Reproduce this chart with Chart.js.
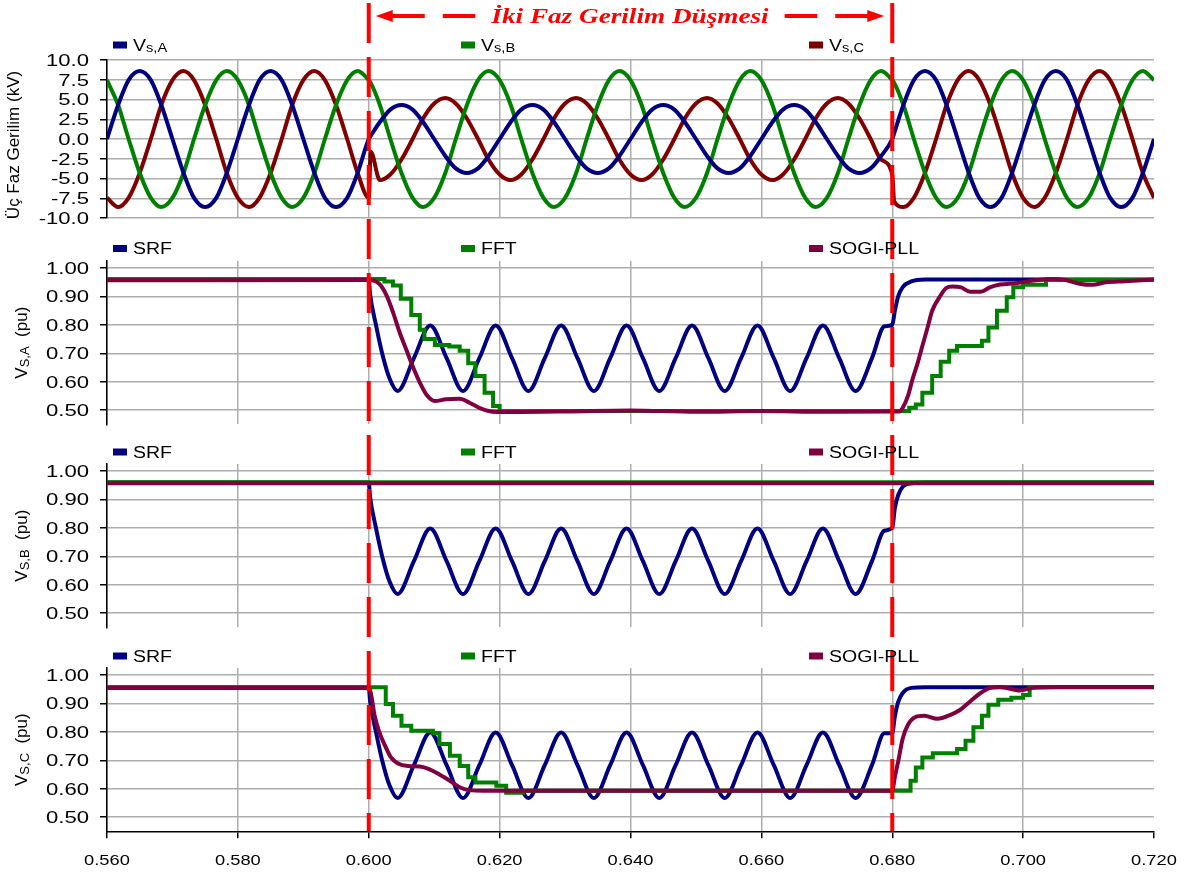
<!DOCTYPE html>
<html>
<head>
<meta charset="utf-8">
<title>Iki Faz Gerilim Dusmesi</title>
<script src="https://cdn.jsdelivr.net/npm/chart.js@4.4.1/dist/chart.umd.min.js"></script>
<style>
  body { margin: 0; background: #fff; }
  #wrap { position: relative; width: 1187px; height: 876px; }
  #wrap canvas { position: absolute; left: 0; }
</style>
</head>
<body>
<div id="wrap">
  <canvas id="c1" width="1187" height="232" style="top:0px"></canvas>
  <canvas id="c2" width="1187" height="203" style="top:232px"></canvas>
  <canvas id="c3" width="1187" height="203" style="top:435px"></canvas>
  <canvas id="c4" width="1187" height="238" style="top:638px"></canvas>
</div>
<script>
// ---- axis ticks / event ----
const timeTicks = [0.560, 0.580, 0.600, 0.620, 0.640, 0.660, 0.680, 0.700, 0.720];
const kvTicks = [-10, -7.5, -5, -2.5, 0, 2.5, 5, 7.5, 10];
const puTicks = [0.5, 0.6, 0.7, 0.8, 0.9, 1.0];
const sagEdges = [0.600, 0.680];

// ---- three phase voltages (kV) ----
const tV = [0.5600,0.5617,0.5633,0.5650,0.5667,0.5683,0.5700,0.5717,0.5733,0.5750,0.5767,0.5783,
  0.5800,0.5817,0.5833,0.5850,0.5867,0.5883,0.5900,0.5917,0.5933,0.5950,0.5967,0.5983,
  0.6000,0.6003,
  0.6017,0.6033,0.6050,0.6067,0.6083,0.6100,0.6117,0.6133,0.6150,0.6167,0.6183,0.6200,
  0.6217,0.6233,0.6250,0.6267,0.6283,0.6300,0.6317,0.6333,0.6350,0.6367,0.6383,0.6400,
  0.6417,0.6433,0.6450,0.6467,0.6483,0.6500,0.6517,0.6533,0.6550,0.6567,0.6583,0.6600,
  0.6617,0.6633,0.6650,0.6667,0.6683,0.6700,0.6717,0.6733,0.6750,0.6767,0.6783,0.6800,
  0.6803,
  0.6817,0.6833,0.6850,0.6867,0.6883,0.6900,0.6917,0.6933,0.6950,0.6967,0.6983,0.7000,
  0.7017,0.7033,0.7050,0.7067,0.7083,0.7100,0.7117,0.7133,0.7150,0.7167,0.7183,0.7200];
const vA = [0,4.3,7.45,8.6,7.45,4.3,0,-4.3,-7.45,-8.6,-7.45,-4.3,
  0,4.3,7.45,8.6,7.45,4.3,0,-4.3,-7.45,-8.6,-7.45,-4.3,
  0,0.4,
  2.15,3.72,4.3,3.72,2.15,0,-2.15,-3.72,-4.3,-3.72,-2.15,0,
  2.15,3.72,4.3,3.72,2.15,0,-2.15,-3.72,-4.3,-3.72,-2.15,0,
  2.15,3.72,4.3,3.72,2.15,0,-2.15,-3.72,-4.3,-3.72,-2.15,0,
  2.15,3.72,4.3,3.72,2.15,0,-2.15,-3.72,-4.3,-3.72,-2.15,0,
  0.75,
  4.3,7.45,8.6,7.45,4.3,0,-4.3,-7.45,-8.6,-7.45,-4.3,0,
  4.3,7.45,8.6,7.45,4.3,0,-4.3,-7.45,-8.6,-7.45,-4.3,0];
const vB = [7.45,4.3,0,-4.3,-7.45,-8.6,-7.45,-4.3,0,4.3,7.45,8.6,
  7.45,4.3,0,-4.3,-7.45,-8.6,-7.45,-4.3,0,4.3,7.45,8.6,
  7.45,7.1,
  4.3,0,-4.3,-7.45,-8.6,-7.45,-4.3,0,4.3,7.45,8.6,7.45,
  4.3,0,-4.3,-7.45,-8.6,-7.45,-4.3,0,4.3,7.45,8.6,7.45,
  4.3,0,-4.3,-7.45,-8.6,-7.45,-4.3,0,4.3,7.45,8.6,7.45,
  4.3,0,-4.3,-7.45,-8.6,-7.45,-4.3,0,4.3,7.45,8.6,7.45,
  7.1,
  4.3,0,-4.3,-7.45,-8.6,-7.45,-4.3,0,4.3,7.45,8.6,7.45,
  4.3,0,-4.3,-7.45,-8.6,-7.45,-4.3,0,4.3,7.45,8.6,7.45];
const vC = [-7.45,-8.6,-7.45,-4.3,0,4.3,7.45,8.6,7.45,4.3,0,-4.3,
  -7.45,-8.6,-7.45,-4.3,0,4.3,7.45,8.6,7.45,4.3,0,-4.3,
  -7.45,-1.6,
  -5.2,-4.5,-2.6,0,2.6,4.5,5.2,4.5,2.6,0,-2.6,-4.5,
  -5.2,-4.5,-2.6,0,2.6,4.5,5.2,4.5,2.6,0,-2.6,-4.5,
  -5.2,-4.5,-2.6,0,2.6,4.5,5.2,4.5,2.6,0,-2.6,-4.5,
  -5.2,-4.5,-2.6,0,2.6,4.5,5.2,4.5,2.6,0,-2.6,-4.5,
  -7.9,
  -8.6,-7.45,-4.3,0,4.3,7.45,8.6,7.45,4.3,0,-4.3,-7.45,
  -8.6,-7.45,-4.3,0,4.3,7.45,8.6,7.45,4.3,0,-4.3,-7.45];

// ---- SRF estimates (pu), same time base for the three phases ----
const tSRF = [0.5600,0.6000,0.6002,0.6011,0.6021,0.6032,
  0.6044,0.6069,0.6094,0.6119,0.6144,0.6169,0.6194,0.6219,0.6244,0.6269,0.6294,0.6319,
  0.6344,0.6369,0.6394,0.6419,0.6444,0.6469,0.6494,0.6519,0.6544,0.6569,0.6594,0.6619,
  0.6644,0.6669,0.6694,0.6719,0.6744,
  0.6769,0.6788,0.6800,0.6804,0.6809,0.6816,0.6829,0.6850,0.7200];
const srfA = [0.96,0.96,0.91,0.80,0.695,0.61,
  0.567,0.683,0.798,0.683,0.567,0.683,0.798,0.683,0.567,0.683,0.798,0.683,
  0.567,0.683,0.798,0.683,0.567,0.683,0.798,0.683,0.567,0.683,0.798,0.683,
  0.567,0.683,0.798,0.683,0.567,
  0.683,0.795,0.80,0.85,0.90,0.933,0.953,0.96,0.96];
const srfB = [0.96,0.96,0.91,0.80,0.695,0.61,
  0.567,0.683,0.798,0.683,0.567,0.683,0.798,0.683,0.567,0.683,0.798,0.683,
  0.567,0.683,0.798,0.683,0.567,0.683,0.798,0.683,0.567,0.683,0.798,0.683,
  0.567,0.683,0.798,0.683,0.567,
  0.683,0.79,0.80,0.87,0.915,0.945,0.957,0.96,0.96];
const srfC = [0.957,0.957,0.91,0.80,0.695,0.61,
  0.567,0.683,0.798,0.683,0.567,0.683,0.798,0.683,0.567,0.683,0.798,0.683,
  0.567,0.683,0.798,0.683,0.567,0.683,0.798,0.683,0.567,0.683,0.798,0.683,
  0.567,0.683,0.798,0.683,0.567,
  0.683,0.795,0.795,0.855,0.905,0.937,0.955,0.957,0.957];

// ---- FFT estimates (pu, step output) ----
const tFftA = [0.5600,0.6024,0.6037,0.6049,0.6065,0.6078,0.6085,0.6101,0.6123,0.6139,0.6152,0.6163,0.6177,0.6190,0.6200,
  0.6826,0.6836,0.6846,0.6861,0.6874,0.6887,0.6899,0.6937,0.6947,0.6960,0.6975,0.6985,0.7000,0.7035,0.7200];
const fftA = [0.962,0.953,0.939,0.892,0.835,0.783,0.750,0.729,0.724,0.709,0.665,0.620,0.561,0.514,0.497,
  0.508,0.520,0.561,0.620,0.670,0.709,0.726,0.744,0.791,0.850,0.897,0.933,0.941,0.958,0.962];
const tFftB = [0.5600,0.7200];
const fftB = [0.961,0.961];
const tFftC = [0.5600,0.6026,0.6037,0.6050,0.6065,0.6098,0.6108,0.6124,0.6139,0.6152,0.6163,0.6195,0.6210,0.6236,
  0.6828,0.6836,0.6846,0.6862,0.6899,0.6912,0.6924,0.6937,0.6947,0.6962,0.6982,0.7000,0.7010,0.7200];
const fftC = [0.957,0.898,0.857,0.822,0.804,0.796,0.757,0.716,0.680,0.640,0.622,0.610,0.586,0.593,
  0.628,0.675,0.710,0.725,0.740,0.769,0.816,0.857,0.896,0.913,0.920,0.930,0.958,0.958];

// ---- SOGI-PLL estimates (pu) ----
const tSogiA = [0.5600,0.6000,0.6016,0.6027,0.6037,0.6047,0.6057,0.6067,0.6078,0.6088,0.6101,0.6118,0.6139,0.6154,0.6169,0.6185,0.6210,
  0.6300,0.6400,0.6500,0.6600,0.6700,0.6811,0.6816,0.6824,0.6831,0.6839,0.6846,0.6854,0.6861,0.6872,0.6882,0.6892,0.6904,
  0.6919,0.6935,0.6950,0.6965,0.6990,0.7015,0.7045,0.7065,0.7086,0.7106,0.7126,0.7156,0.7200];
const sogiA = [0.957,0.958,0.945,0.905,0.845,0.775,0.715,0.655,0.597,0.555,0.532,0.538,0.540,0.526,0.508,0.496,0.493,
  0.495,0.499,0.494,0.497,0.494,0.495,0.508,0.550,0.609,0.667,0.726,0.791,0.850,0.897,0.929,0.935,0.933,
  0.917,0.917,0.933,0.942,0.947,0.956,0.962,0.958,0.945,0.941,0.950,0.954,0.960];
const tSogiB = [0.5600,0.7200];
const sogiB = [0.957,0.957];
const tSogiC = [0.5600,0.6000,0.6004,0.6009,0.6016,0.6024,0.6034,0.6044,0.6060,0.6078,0.6093,0.6108,0.6124,0.6139,0.6154,0.6175,
  0.6800,0.6804,0.6809,0.6816,0.6824,0.6834,0.6849,0.6869,0.6889,0.6904,0.6919,0.6935,0.6950,0.6965,0.6995,0.7015,0.7055,0.7200];
const sogiC = [0.955,0.955,0.927,0.857,0.800,0.756,0.710,0.690,0.680,0.678,0.668,0.650,0.628,0.605,0.595,0.593,
  0.593,0.642,0.695,0.777,0.825,0.851,0.857,0.846,0.860,0.878,0.907,0.937,0.955,0.958,0.946,0.955,0.958,0.958];

const NAVY = '#000080', GREEN = '#008000', DARKRED = '#800000', MAROON = '#800040';
const RED = '#ff0000', GRID = '#adadad';
const SANS = '"Liberation Sans", Arial, sans-serif';

function pts(ts, vs) { return ts.map((t, i) => ({ x: t, y: vs[i] })); }

// label 'V_s,A_ (pu)' -> main / subscript / tail parts
function parts(label, size) {
  const p = label.split('_');
  const out = [{ t: p[0], font: size + 'px ' + SANS, dy: 0 }];
  if (p[1]) out.push({ t: p[1], font: Math.round(size * 0.75) + 'px ' + SANS, dy: 1.5 });
  if (p[2]) out.push({ t: p[2], font: size + 'px ' + SANS, dy: 0 });
  return out;
}

function richText(ctx, ps, x, y, align, sx) {
  let w = 0;
  ps.forEach(p => { ctx.font = p.font; p.w = ctx.measureText(p.t).width; w += p.w; });
  ctx.save();
  ctx.translate(x, y);
  ctx.scale(sx, 1);
  ctx.textAlign = 'left';
  ctx.textBaseline = 'alphabetic';
  let cx = align === 'right' ? -w : align === 'center' ? -w / 2 : 0;
  ps.forEach(p => { ctx.font = p.font; ctx.fillText(p.t, cx, p.dy); cx += p.w; });
  ctx.restore();
}

const decor = {
  id: 'decor',
  afterDraw(chart, args, o) {
    const ctx = chart.ctx, a = chart.chartArea, xs = chart.scales.x, ys = chart.scales.y;
    ctx.save();

    // sag start / end markers
    ctx.strokeStyle = RED;
    ctx.lineWidth = 4;
    ctx.setLineDash([40, 14]);
    const y0 = o.banner ? 3 : 0, y1 = o.xLabels ? a.bottom : chart.height;
    ctx.lineDashOffset = o.top + y0 - 3;
    sagEdges.forEach(v => {
      const px = xs.getPixelForValue(v);
      ctx.beginPath(); ctx.moveTo(px, y0); ctx.lineTo(px, y1); ctx.stroke();
    });
    ctx.setLineDash([]);

    // tick labels
    ctx.fillStyle = '#000';
    ys.ticks.forEach(t => {
      richText(ctx, [{ t: t.value.toFixed(o.dec), font: '16px ' + SANS, dy: 0 }], a.left - 18, ys.getPixelForValue(t.value) + 5.8, 'right', 1.38);
    });
    if (o.xLabels) {
      xs.ticks.forEach(t => {
        richText(ctx, [{ t: t.value.toFixed(3), font: '15px ' + SANS, dy: 0 }], xs.getPixelForValue(t.value), a.bottom + 34, 'center', 1.22);
      });
    }

    // legend
    const ly = a.top - o.legendGap;
    o.legend.forEach((lab, i) => {
      const bx = a.left + 6 + i * 348;
      ctx.fillStyle = chart.data.datasets[i].borderColor;
      ctx.fillRect(bx, ly - 3.5, 14, 7);
      ctx.fillStyle = '#000';
      richText(ctx, parts(lab, 16), bx + 20, ly + 5.5, 'left', 1.22);
    });

    // y axis title
    ctx.save();
    ctx.translate(o.titleX, (a.top + a.bottom) / 2 + o.titleShift);
    ctx.rotate(-Math.PI / 2);
    ctx.fillStyle = '#000';
    richText(ctx, parts(o.title, 17), 0, 6, 'center', 1);
    ctx.restore();

    // two phase sag banner
    if (o.banner) {
      const xl = xs.getPixelForValue(sagEdges[0]) + 7, xr = xs.getPixelForValue(sagEdges[1]) - 8, yb = 16;
      const cx = (xl + xr) / 2;
      ctx.fillStyle = RED; ctx.strokeStyle = RED;
      ctx.font = 'italic bold 20px "Liberation Serif", "Times New Roman", serif';
      const tw = ctx.measureText(o.banner).width * 1.36;
      ctx.save();
      ctx.translate(cx, yb + 6.5); ctx.scale(1.36, 1);
      ctx.textAlign = 'center'; ctx.textBaseline = 'alphabetic';
      ctx.fillText(o.banner, 0, 0);
      ctx.restore();
      [[xl, 1], [xr, -1]].forEach(([tip, dir]) => {
        ctx.beginPath();
        ctx.moveTo(tip, yb); ctx.lineTo(tip + dir * 17, yb - 6); ctx.lineTo(tip + dir * 17, yb + 6);
        ctx.closePath(); ctx.fill();
        ctx.lineWidth = 4;
        ctx.setLineDash([34, 18]);
        ctx.beginPath(); ctx.moveTo(tip + dir * 15, yb); ctx.lineTo(cx - dir * (tw / 2 + 16), yb); ctx.stroke();
        ctx.setLineDash([]);
      });
    }
    ctx.restore();
  }
};

function panel(id, o) {
  return new Chart(document.getElementById(id), {
    type: 'line',
    data: { datasets: o.sets },
    options: {
      responsive: false,
      animation: false,
      layout: { padding: { left: 0, right: 33, top: o.padTop, bottom: o.padBottom } },
      elements: { point: { radius: 0 }, line: { borderWidth: 4 } },
      plugins: { legend: { display: false }, tooltip: { enabled: false }, decor: o },
      scales: {
        x: {
          type: 'linear', min: 0.56, max: 0.72,
          afterBuildTicks: s => { s.ticks = timeTicks.map(v => ({ value: v })); },
          afterFit: s => { s.height = o.xHeight; },
          ticks: { display: false },
          grid: {
            color: c => (c.tick && Math.abs(c.tick.value - 0.72) < 1e-9) ? 'rgba(0,0,0,0)' : GRID,
            lineWidth: 1.5, drawTicks: !!o.xLabels, tickLength: 7, tickColor: '#000'
          },
          border: { display: !!o.xLabels, color: '#000', width: 1.5 }
        },
        y: {
          min: o.yMin, max: o.yMax,
          afterBuildTicks: s => { s.ticks = o.yTicks.map(v => ({ value: v })); },
          afterFit: s => { s.width = 107; },
          ticks: { display: false },
          grid: { color: GRID, lineWidth: 1.5, tickLength: 7, tickColor: '#000' },
          border: { color: '#000', width: 1.5 }
        }
      }
    },
    plugins: [decor]
  });
}

function estimators(srf, tf, f, ts, s) {
  return [
    { data: pts(tSRF, srf), borderColor: NAVY, cubicInterpolationMode: 'monotone', order: 3 },
    { data: pts(tf, f), borderColor: GREEN, stepped: true, order: 2 },
    { data: pts(ts, s), borderColor: MAROON, cubicInterpolationMode: 'monotone', order: 1 }
  ];
}

const est = ['SRF', 'FFT', 'SOGI-PLL'];

panel('c1', {
  top: 0, padTop: 60, padBottom: 14, xHeight: 0, yMin: -10, yMax: 10, yTicks: kvTicks, dec: 1,
  legend: ['V_s,A', 'V_s,B', 'V_s,C'], legendGap: 15, title: 'Üç Faz Gerilim (kV)', titleX: 13, titleShift: 6,
  banner: 'İki Faz Gerilim Düşmesi',
  sets: [
    { data: pts(tV, vA), borderColor: NAVY, cubicInterpolationMode: 'monotone' },
    { data: pts(tV, vB), borderColor: GREEN, cubicInterpolationMode: 'monotone' },
    { data: pts(tV, vC), borderColor: DARKRED, cubicInterpolationMode: 'monotone' }
  ]
});
panel('c2', {
  top: 232, padTop: 29, padBottom: 10.7, xHeight: 0, yMin: 0.45, yMax: 1.025, yTicks: puTicks, dec: 2,
  legend: est, legendGap: 12.5, title: 'V_S,A_  (pu)', titleX: 21, titleShift: 0,
  sets: estimators(srfA, tFftA, fftA, tSogiA, sogiA)
});
panel('c3', {
  top: 435, padTop: 29, padBottom: 10.7, xHeight: 0, yMin: 0.45, yMax: 1.025, yTicks: puTicks, dec: 2,
  legend: est, legendGap: 12, title: 'V_S,B_  (pu)', titleX: 21, titleShift: 0,
  sets: estimators(srfB, tFftB, fftB, tSogiB, sogiB)
});
panel('c4', {
  top: 638, padTop: 30, padBottom: 0, xHeight: 44.7, yMin: 0.45, yMax: 1.025, yTicks: puTicks, dec: 2,
  legend: est, legendGap: 12, title: 'V_S,C_  (pu)', titleX: 21, titleShift: 0, xLabels: true,
  sets: estimators(srfC, tFftC, fftC, tSogiC, sogiC)
});
</script>
</body>
</html>
